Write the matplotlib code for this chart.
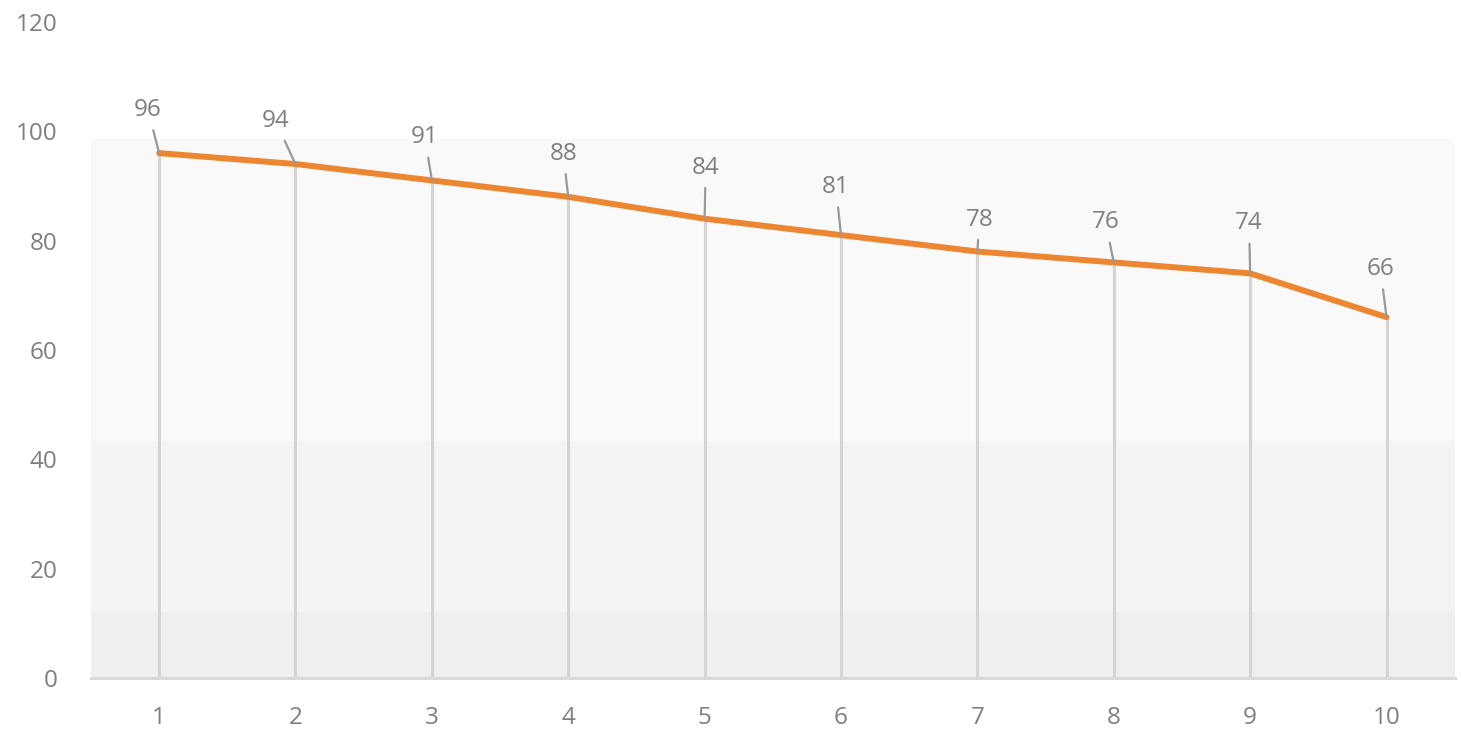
import matplotlib.pyplot as plt

x = [1, 2, 3, 4, 5, 6, 7, 8, 9, 10]
values = [96, 94, 91, 88, 84, 81, 78, 76, 74, 66]
# label offsets in pixels (dx, dy) relative to each point
label_dx = [-11, -20, -7, -5, 1, -5, 2, -8, -1, -6]
label_dy = [31, 31, 31, 31, 39, 36, 20, 28, 38, 36]
bands = [(0, 12, '#efefef'), (12, 43.4, '#f4f4f4'), (43.4, 98.6, '#f9f9f9')]

plt.rcParams['font.family'] = ['Open Sans', 'DejaVu Sans']
fig = plt.figure(figsize=(14.62, 7.29), dpi=100)
ax = fig.add_axes([0.0622, 0.070, 0.9328, 0.900])

for lo, hi, c in bands:
    ax.axhspan(lo, hi, color=c, lw=0, zorder=0)

ax.vlines(x, 0, values, colors='#d4d4d4', lw=2.2, zorder=1)
ax.plot(x, values, color='#ed8631', lw=4.3, solid_capstyle='round', zorder=3)

for xi, v, dx, dy in zip(x, values, label_dx, label_dy):
    ax.annotate(str(v), (xi, v), xytext=(dx, dy), textcoords='offset pixels',
                ha='center', va='bottom', fontsize=17.5, color='#7f7f7f',
                arrowprops=dict(arrowstyle='-', color='#999999', lw=1.6,
                                shrinkA=4, shrinkB=0), zorder=4)

ax.set_xlim(0.5, 10.5)
ax.set_ylim(0, 120)
ax.set_xticks(x)
ax.set_yticks(range(0, 121, 20))
ax.tick_params(length=0, labelsize=17.5, labelcolor='#7f7f7f', pad=20)
ax.tick_params(axis='y', pad=24)
for s in ['top', 'right', 'left']:
    ax.spines[s].set_visible(False)
ax.spines['bottom'].set_color('#d9d9d9')
ax.spines['bottom'].set_linewidth(2.2)
ax.spines['bottom'].set_zorder(2)
ax.set_facecolor('white')

fig.savefig('out.png', dpi=100)
